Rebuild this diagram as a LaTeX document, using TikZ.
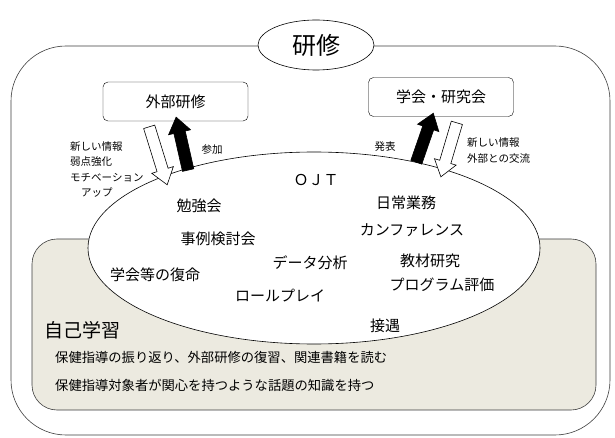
\documentclass[tikz,border=0pt]{standalone}
\usepackage{fontspec}
\setmainfont{Noto Sans CJK JP}
\usetikzlibrary{shapes.geometric,shapes.arrows,calc}
\definecolor{selfbg}{RGB}{236,234,224}
\definecolor{framegray}{RGB}{60,60,60}

\tikzset{
  kenbox/.style={draw, rounded corners=5pt, minimum width=145pt, minimum height=39pt, font=\fontsize{15}{17}\selectfont},
  item/.style={font=\fontsize{15}{17}\selectfont},
  note/.style={font=\fontsize{10.5}{15.3}\selectfont, align=left, inner sep=0pt},
  line/.style={font=\fontsize{13.3}{15}\selectfont, inner sep=0pt},
  blockarr/.style={single arrow, draw=black, line width=0.6pt, inner xsep=0pt, inner ysep=5.5pt,
    text height=0pt, text depth=0pt, minimum width=22pt, single arrow head extend=5.5pt,
    single arrow tip angle=72}
}

% block arrow from #1 to #2, filled with #3
\newcommand{\blockarrow}[4]{%
  \path let \p1=($(#2)-(#1)$), \n1={atan2(\y1,\x1)}, \n2={veclen(\x1,\y1)} in
    node (#4) [blockarr, fill=#3, minimum height=\n2, rotate=\n1] at ($(#1)!0.5!(#2)$) {};}

\begin{document}
\begin{tikzpicture}[x=1pt,y=-1pt]
  \useasboundingbox (0,0) rectangle (615,438);

  % outer frame and title
  \draw[framegray, semithick, rounded corners=55pt] (11,46) rectangle (610,435);
  \node (title) [ellipse, draw, semithick, fill=white, minimum width=116pt, minimum height=50pt,
    font=\fontsize{24}{26}\selectfont] at (316,45) {研修};

  % outside training
  \node (gaibu) [kenbox] at (175.5,101.5) {外部研修};
  \node (gakkai) [kenbox] at (441,97) {学会・研究会};

  % self study
  \draw[framegray, fill=selfbg, semithick, rounded corners=25pt] (32,239) rectangle (596,410);
  \node (jiko) [anchor=west, inner sep=0pt, font=\fontsize{19}{21}\selectfont] at (44,330) {自己学習};
  \node (jiko1) [line, anchor=west] at (55,357) {保健指導の振り返り、外部研修の復習、関連書籍を読む};
  \node (jiko2) [line, anchor=west] at (55,385) {保健指導対象者が関心を持つような話題の知識を持つ};

  % OJT
  \node (ojt) [ellipse, draw, semithick, fill=white, minimum width=452pt, minimum height=192pt] at (314,248) {};
  \node (ojtlabel) [item] at (316,180) {ＯＪＴ};
  \node (benkyo) [item] at (199,206) {勉強会};
  \node (nichijo) [item] at (406,203) {日常業務};
  \node (jirei) [item] at (218,239) {事例検討会};
  \node (conf) [item] at (412,230) {カンファレンス};
  \node (data) [item] at (310,263) {データ分析};
  \node (kyozai) [item] at (430,261) {教材研究};
  \node (fukumei) [item] at (155,275) {学会等の復命};
  \node (program) [item] at (442,285) {プログラム評価};
  \node (role) [item] at (280,296) {ロールプレイ};
  \node (setsugu) [item] at (385,326) {接遇};

  % arrows between OJT and outside
  \coordinate (wl1) at (148,123);
  \coordinate (wl2) at (166,181);
  \coordinate (bl1) at (189,174);
  \coordinate (bl2) at (177,121);
  \coordinate (br1) at (415,166);
  \coordinate (br2) at (432,117);
  \coordinate (wr1) at (458,119);
  \coordinate (wr2) at (442,173);
  \blockarrow{wl1}{wl2}{white}{arrwl}
  \blockarrow{bl1}{bl2}{black}{arrbl}
  \blockarrow{br1}{br2}{black}{arrbr}
  \blockarrow{wr1}{wr2}{white}{arrwr}

  \node (sanka) [note] at (212,150) {参加};
  \node (happyo) [note] at (385,147) {発表};
  \node (noteL) [note, anchor=west] at (70,169.5) {新しい情報\\弱点強化\\モチベーション\\\hspace{11pt}アップ};
  \node (noteR) [note, anchor=west] at (467,150.5) {新しい情報\\外部との交流};
\end{tikzpicture}
\end{document}
